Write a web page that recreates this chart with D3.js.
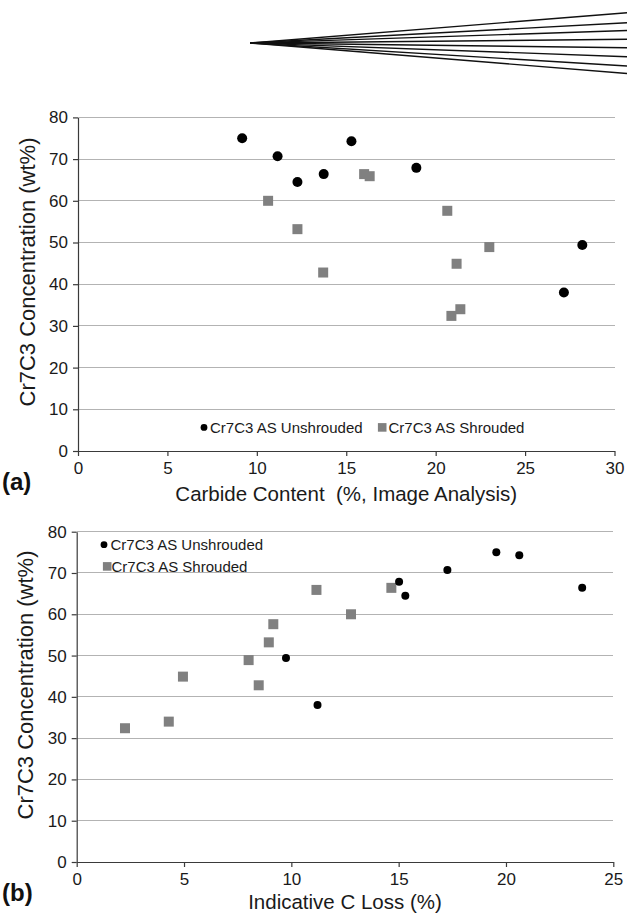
<!DOCTYPE html>
<html>
<head>
<meta charset="utf-8">
<script src="https://cdn.jsdelivr.net/npm/d3@7/dist/d3.min.js"></script>
<style>
  html, body { margin: 0; padding: 0; background: #fff; }
  svg { display: block; font-family: "Liberation Sans", Arial, sans-serif; }
</style>
</head>
<body>
<svg id="fig" width="627" height="913"></svg>
<script>
// Cr7C3 concentration (wt%) for each sample, with its carbide content and indicative C loss
const unshroudedCr      = [75.0, 70.7, 64.5, 66.4, 74.3, 67.9, 49.4, 38.0];
const unshroudedCarbide = [9.18, 11.16, 12.27, 13.74, 15.29, 18.92, 28.2, 27.17];
const unshroudedCLoss   = [19.55, 17.27, 15.31, 23.55, 20.62, 15.02, 9.75, 11.22];

const shroudedCr      = [60.0, 53.2, 42.8, 66.4, 65.9, 57.6, 48.9, 44.9, 34.0, 32.4];
const shroudedCarbide = [10.63, 12.27, 13.71, 16.0, 16.31, 20.65, 23.0, 21.17, 21.38, 20.88];
const shroudedCLoss   = [12.78, 8.95, 8.48, 14.66, 11.17, 9.16, 8.01, 4.95, 4.29, 2.25];

const seriesNames = ["Cr7C3 AS Unshrouded", "Cr7C3 AS Shrouded"];
const yTicks  = [0, 10, 20, 30, 40, 50, 60, 70, 80];
const xTicksA = [0, 5, 10, 15, 20, 25, 30];
const xTicksB = [0, 5, 10, 15, 20, 25];
const yTitle  = "Cr7C3 Concentration (wt%)";
const xTitleA = "Carbide Content  (%, Image Analysis)";
const xTitleB = "Indicative C Loss (%)";

const svg = d3.select("#fig");
const GRID = "#b3b3b3", AXIS = "#3a3a3a", GREY = "#808080";

// fan of strokes across the top of the page
const fanApex = [250, 43];
const fanEnds = [12.7, 22.7, 30.5, 39.3, 47.7, 56.7, 66, 73.5];
svg.append("g").selectAll("line").data(fanEnds).join("line")
  .attr("x1", fanApex[0]).attr("y1", fanApex[1])
  .attr("x2", 627).attr("y2", d => d)
  .attr("stroke", "#111").attr("stroke-width", 1.4);

function panel(opt) {
  const x = d3.scaleLinear().domain(opt.xDomain).range([opt.left, opt.right]);
  const y = d3.scaleLinear().domain([0, 80]).range([opt.bottom, opt.top]);
  const g = svg.append("g");

  // horizontal gridlines
  g.append("g").selectAll("line").data(yTicks.filter(v => v > 0)).join("line")
    .attr("x1", opt.left).attr("x2", opt.right)
    .attr("y1", d => y(d)).attr("y2", d => y(d))
    .attr("stroke", GRID).attr("stroke-width", 1).attr("shape-rendering", "crispEdges");

  // axes
  const ya = g.append("g").attr("transform", `translate(${opt.left},0)`)
    .call(d3.axisLeft(y).tickValues(yTicks).tickSize(5).tickPadding(5).tickSizeOuter(0));
  const xa = g.append("g").attr("transform", `translate(0,${opt.bottom})`)
    .call(d3.axisBottom(x).tickValues(opt.xTicks).tickSize(5).tickPadding(5).tickSizeOuter(0));
  [ya, xa].forEach(a => {
    a.select(".domain").attr("stroke", AXIS).attr("stroke-width", 1.2);
    a.selectAll(".tick line").attr("stroke", AXIS).attr("stroke-width", 1.2);
    a.selectAll(".tick text").attr("fill", "#1a1a1a")
      .attr("font-size", 17).attr("font-family", "Liberation Sans, Arial, sans-serif");
  });
  xa.selectAll(".tick text").attr("dy", "0.75em");

  // data points: shrouded squares first, unshrouded circles on top
  g.append("g").selectAll("rect").data(opt.sq).join("rect")
    .attr("x", d => x(d[0]) - opt.sqSize / 2).attr("y", d => y(d[1]) - opt.sqSize / 2)
    .attr("width", opt.sqSize).attr("height", opt.sqSize).attr("fill", GREY);
  g.append("g").selectAll("circle").data(opt.circ).join("circle")
    .attr("cx", d => x(d[0])).attr("cy", d => y(d[1])).attr("r", opt.r).attr("fill", "#000");

  // axis titles
  g.append("text")
    .attr("transform", `translate(${opt.yTitleX},${opt.yTitleMid}) rotate(-90)`)
    .attr("text-anchor", "middle").attr("font-size", 22).attr("fill", "#1a1a1a")
    .text(yTitle);
  g.append("text")
    .attr("x", (opt.left + opt.right) / 2).attr("y", opt.xTitleY)
    .attr("text-anchor", "middle").attr("font-size", 20.5).attr("fill", "#1a1a1a")
    .style("white-space", "pre")
    .text(opt.xTitle);

  // panel letter
  g.append("text").attr("x", 2).attr("y", opt.letterY)
    .attr("font-size", 24).attr("font-weight", "bold").attr("fill", "#111")
    .text(opt.letter);

  // legend entries
  opt.legend.forEach((L, i) => {
    if (i === 0) {
      g.append("circle").attr("cx", L.mx).attr("cy", L.y - 5.3).attr("r", 3.4).attr("fill", "#000");
    } else {
      g.append("rect").attr("x", L.mx - 4.3).attr("y", L.y - 9.6).attr("width", 8.6).attr("height", 8.6)
        .attr("fill", GREY);
    }
    g.append("text").attr("x", L.tx).attr("y", L.y)
      .attr("font-size", 15).attr("fill", "#1a1a1a").text(seriesNames[i]);
  });
}

panel({
  left: 78, right: 614.5, top: 117.4, bottom: 451,
  xDomain: [0, 30], xTicks: xTicksA,
  circ: unshroudedCarbide.map((v, i) => [v, unshroudedCr[i]]),
  sq: shroudedCarbide.map((v, i) => [v, shroudedCr[i]]),
  r: 5, sqSize: 10,
  yTitleX: 35, yTitleMid: 272, xTitleY: 501, xTitle: xTitleA,
  letter: "(a)", letterY: 490,
  legend: [{ mx: 204, tx: 210, y: 432.7 }, { mx: 382.2, tx: 388.5, y: 432.7 }]
});

panel({
  left: 76.7, right: 613.3, top: 531.7, bottom: 862,
  xDomain: [0, 25], xTicks: xTicksB,
  circ: unshroudedCLoss.map((v, i) => [v, unshroudedCr[i]]),
  sq: shroudedCLoss.map((v, i) => [v, shroudedCr[i]]),
  r: 4, sqSize: 10,
  yTitleX: 33, yTitleMid: 685, xTitleY: 909, xTitle: xTitleB,
  letter: "(b)", letterY: 901,
  legend: [{ mx: 104, tx: 110.5, y: 550 }, { mx: 107.2, tx: 111.5, y: 571.7 }]
});
</script>
</body>
</html>
